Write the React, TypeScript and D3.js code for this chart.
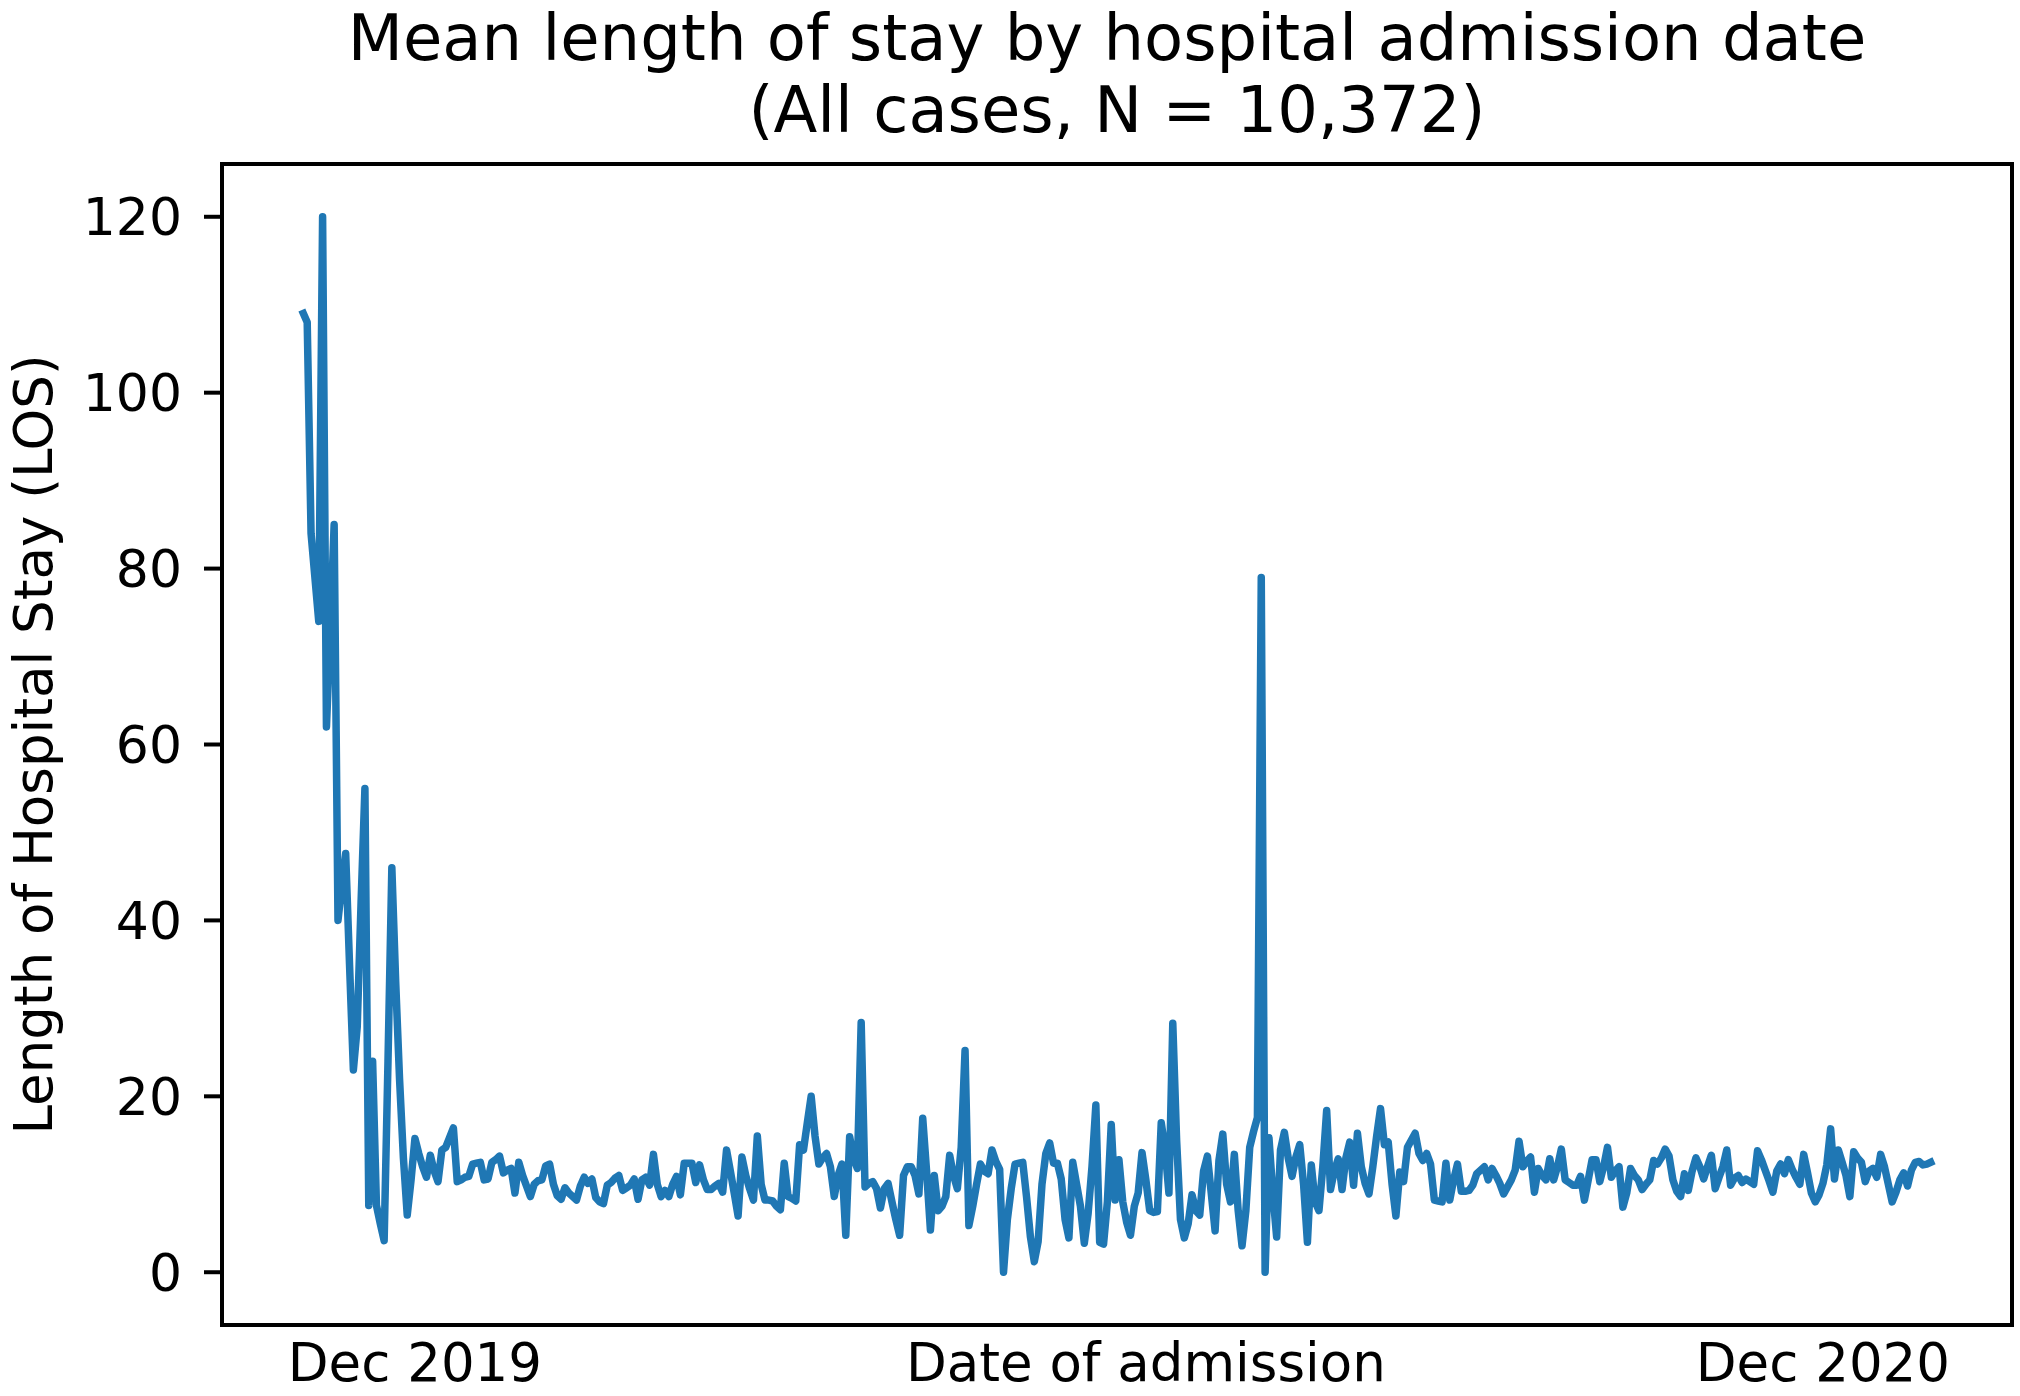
import React from "react";
import * as d3 from "d3";

// daily mean LOS, starting 2 Nov 2019 (one value per admission day)
const startDate = new Date(2019, 10, 2);
const meanLos = [
  109, 108, 84, 79, 74, 120, 62, 73, 85, 40,
  44, 47.6, 35, 23, 27.9, 42, 55, 7.6, 24, 7.6,
  5.5, 3.6, 24, 46, 33, 22, 13, 6.5, 10.5, 15.2,
  13.5, 12, 10.8, 13.3, 11.5, 10.3, 13.9, 14.2, 15.3, 16.4,
  10.3, 10.5, 10.8, 10.9, 12.3, 12.4, 12.5, 10.5, 10.6, 12.5,
  12.8, 13.2, 11.3, 11.6, 11.8, 9.0, 12.5, 11, 9.8, 8.6,
  10, 10.4, 10.5, 12.1, 12.3, 10, 8.7, 8.3, 9.6, 9,
  8.6, 8.2, 9.8, 10.8, 10.1, 10.6, 8.5, 8, 7.8, 9.9,
  10.2, 10.7, 11, 9.3, 9.6, 9.9, 10.6, 8.3, 10.5, 10.8,
  9.9, 13.4, 10, 8.6, 9.3, 8.6, 10, 10.9, 8.8, 12.4,
  12.4, 12.4, 10.2, 12.2, 10.5, 9.4, 9.4, 9.8, 10.1, 9.1,
  13.9, 11.5, 9, 6.4, 13.1, 11, 9.5, 8.2, 15.5, 10,
  8.2, 8.2, 8.1, 7.5, 7.1, 12.4, 8.6, 8.4, 8.1, 14.5,
  13.9, 17, 20, 15.5, 12.3, 13, 13.5, 12, 8.6, 11,
  12.3, 4.2, 15.4, 13, 11.8, 28.4, 9.7, 10.1, 10.3, 9.5,
  7.3, 9.5, 10.1, 8, 6, 4.2, 11, 12, 12, 11,
  8.9, 17.5, 11.5, 4.8, 11, 7, 7.5, 8.6, 13.3, 11,
  9.5, 14.2, 25.2, 5.3, 7.5, 10, 12.3, 11.5, 11.2, 13.9,
  12.6, 11.7, 0, 6, 9.5, 12.3, 12.4, 12.5, 8.5, 4,
  1.2, 3.5, 10, 13.5, 14.7, 12.4, 12.4, 10.6, 6, 3.9,
  12.5, 10, 7.5, 3.3, 6.7, 12, 19, 3.4, 3.2, 8,
  16.8, 8.2, 12.8, 8, 5.7, 4.2, 7.5, 9, 13.6, 10.5,
  7, 6.8, 6.9, 17, 14, 9, 28.3, 15, 6, 3.9,
  5.5, 8.8, 7, 6.5, 11.5, 13.2, 9, 4.7, 12.7, 15.7,
  10, 8, 13.4, 7, 3, 7, 14.2, 16, 17.6, 79,
  0, 15.3, 9, 4, 13.9, 15.9, 13, 10.9, 13.1, 14.5,
  10, 3.4, 12.2, 8, 7, 12, 18.4, 9.4, 11.5, 12.9,
  9.4, 13, 14.8, 9.9, 15.8, 12, 10.1, 8.9, 12, 15.5,
  18.6, 14.5, 14.8, 10, 6.4, 11.4, 10.3, 14.2, 15, 15.8,
  13.5, 12.7, 13.5, 12.3, 8.2, 8.1, 8.0, 12.4, 8.2, 10.5,
  12.3, 9.2, 9.2, 9.3, 9.9, 11.2, 11.6, 12, 10.5, 11.8,
  11, 10.1, 8.9, 9.7, 10.5, 11.6, 14.9, 12, 12.6, 13.1,
  9.1, 11.8, 11, 10.5, 12.9, 10.5, 12, 14, 10.5, 10.2,
  9.9, 9.9, 10.9, 8.2, 10.5, 12.8, 12.8, 10.3, 12, 14.2,
  10.8, 11.5, 12, 7.4, 9, 11.8, 11, 10.5, 9.4, 10,
  10.5, 12.7, 12.3, 13, 14, 13.2, 10.5, 9.2, 8.6, 11.2,
  9.3, 11.5, 13, 12, 10.6, 12, 13.3, 9.5, 10.8, 12,
  13.9, 9.9, 10.7, 11, 10.2, 10.6, 10.3, 10, 13.8, 12.8,
  11.6, 10.4, 9.1, 11.5, 12.3, 11.2, 12.8, 11.7, 10.8, 10,
  13.4, 11.3, 9, 8, 8.8, 10.1, 12.2, 16.3, 10.6, 13.9,
  12.5, 11, 8.6, 13.7, 13, 12.5, 10.3, 11.5, 11.8, 10.8,
  13.4, 12, 10, 8, 9.1, 10.5, 11.3, 9.8, 11.6, 12.5,
  12.6, 12.2, 12.3, 12.5,
];

const yTicks = [0, 20, 40, 60, 80, 100, 120];
const xLabelDates = [new Date(2019, 11, 1), new Date(2020, 5, 8), new Date(2020, 11, 1)];
const xLabelTexts = ["Dec 2019", "Date of admission", "Dec 2020"];

const W = 2020;
const H = 1396;
const margin = { left: 222, right: 8, top: 164, bottom: 71 };
const font = "DejaVu Sans, sans-serif";

export default function App() {
  const points = meanLos.map((v, i) => ({ date: d3.timeDay.offset(startDate, i), v }));

  const x0 = points[0].date;
  const x1 = points[points.length - 1].date;
  const pad = (+x1 - +x0) * 0.05;
  const x = d3
    .scaleTime()
    .domain([new Date(+x0 - pad), new Date(+x1 + pad)])
    .range([margin.left, W - margin.right]);
  const y = d3.scaleLinear().domain([-6, 126]).range([H - margin.bottom, margin.top]);

  const line = d3
    .line<{ date: Date; v: number }>()
    .x((d) => x(d.date))
    .y((d) => y(d.v));

  const left = margin.left;
  const right = W - margin.right;
  const top = margin.top;
  const bottom = H - margin.bottom;
  const midX = (left + right) / 2;

  return (
    <div style={{ position: "absolute", left: 0, top: 0 }}>
      <svg width={W} height={H} style={{ display: "block", background: "#fff" }}>
        <text x={midX - 10} y={60} textAnchor="middle" fontFamily={font} fontSize={64}>
          Mean length of stay by hospital admission date
        </text>
        <text x={midX} y={132} textAnchor="middle" fontFamily={font} fontSize={64}>
          (All cases, N = 10,372)
        </text>

        <path
          d={line(points) ?? ""}
          fill="none"
          stroke="#1f77b4"
          strokeWidth={7.5}
          strokeLinejoin="round"
          strokeLinecap="square"
        />

        {yTicks.map((t) => (
          <g key={t}>
            <line x1={left - 18} x2={left} y1={y(t)} y2={y(t)} stroke="#000" strokeWidth={4} />
            <text
              x={left - 40}
              y={y(t)}
              dy="0.36em"
              textAnchor="end"
              fontFamily={font}
              fontSize={52}
            >
              {t}
            </text>
          </g>
        ))}

        {xLabelTexts.map((t, i) => (
          <text
            key={t}
            x={x(xLabelDates[i])}
            y={1381}
            textAnchor="middle"
            fontFamily={font}
            fontSize={53}
          >
            {t}
          </text>
        ))}

        <text
          transform={`translate(52, ${(top + bottom) / 2}) rotate(-90)`}
          textAnchor="middle"
          fontFamily={font}
          fontSize={53}
        >
          Length of Hospital Stay (LOS)
        </text>

        <rect
          x={left}
          y={top}
          width={right - left}
          height={bottom - top}
          fill="none"
          stroke="#000"
          strokeWidth={4}
        />
      </svg>
    </div>
  );
}
